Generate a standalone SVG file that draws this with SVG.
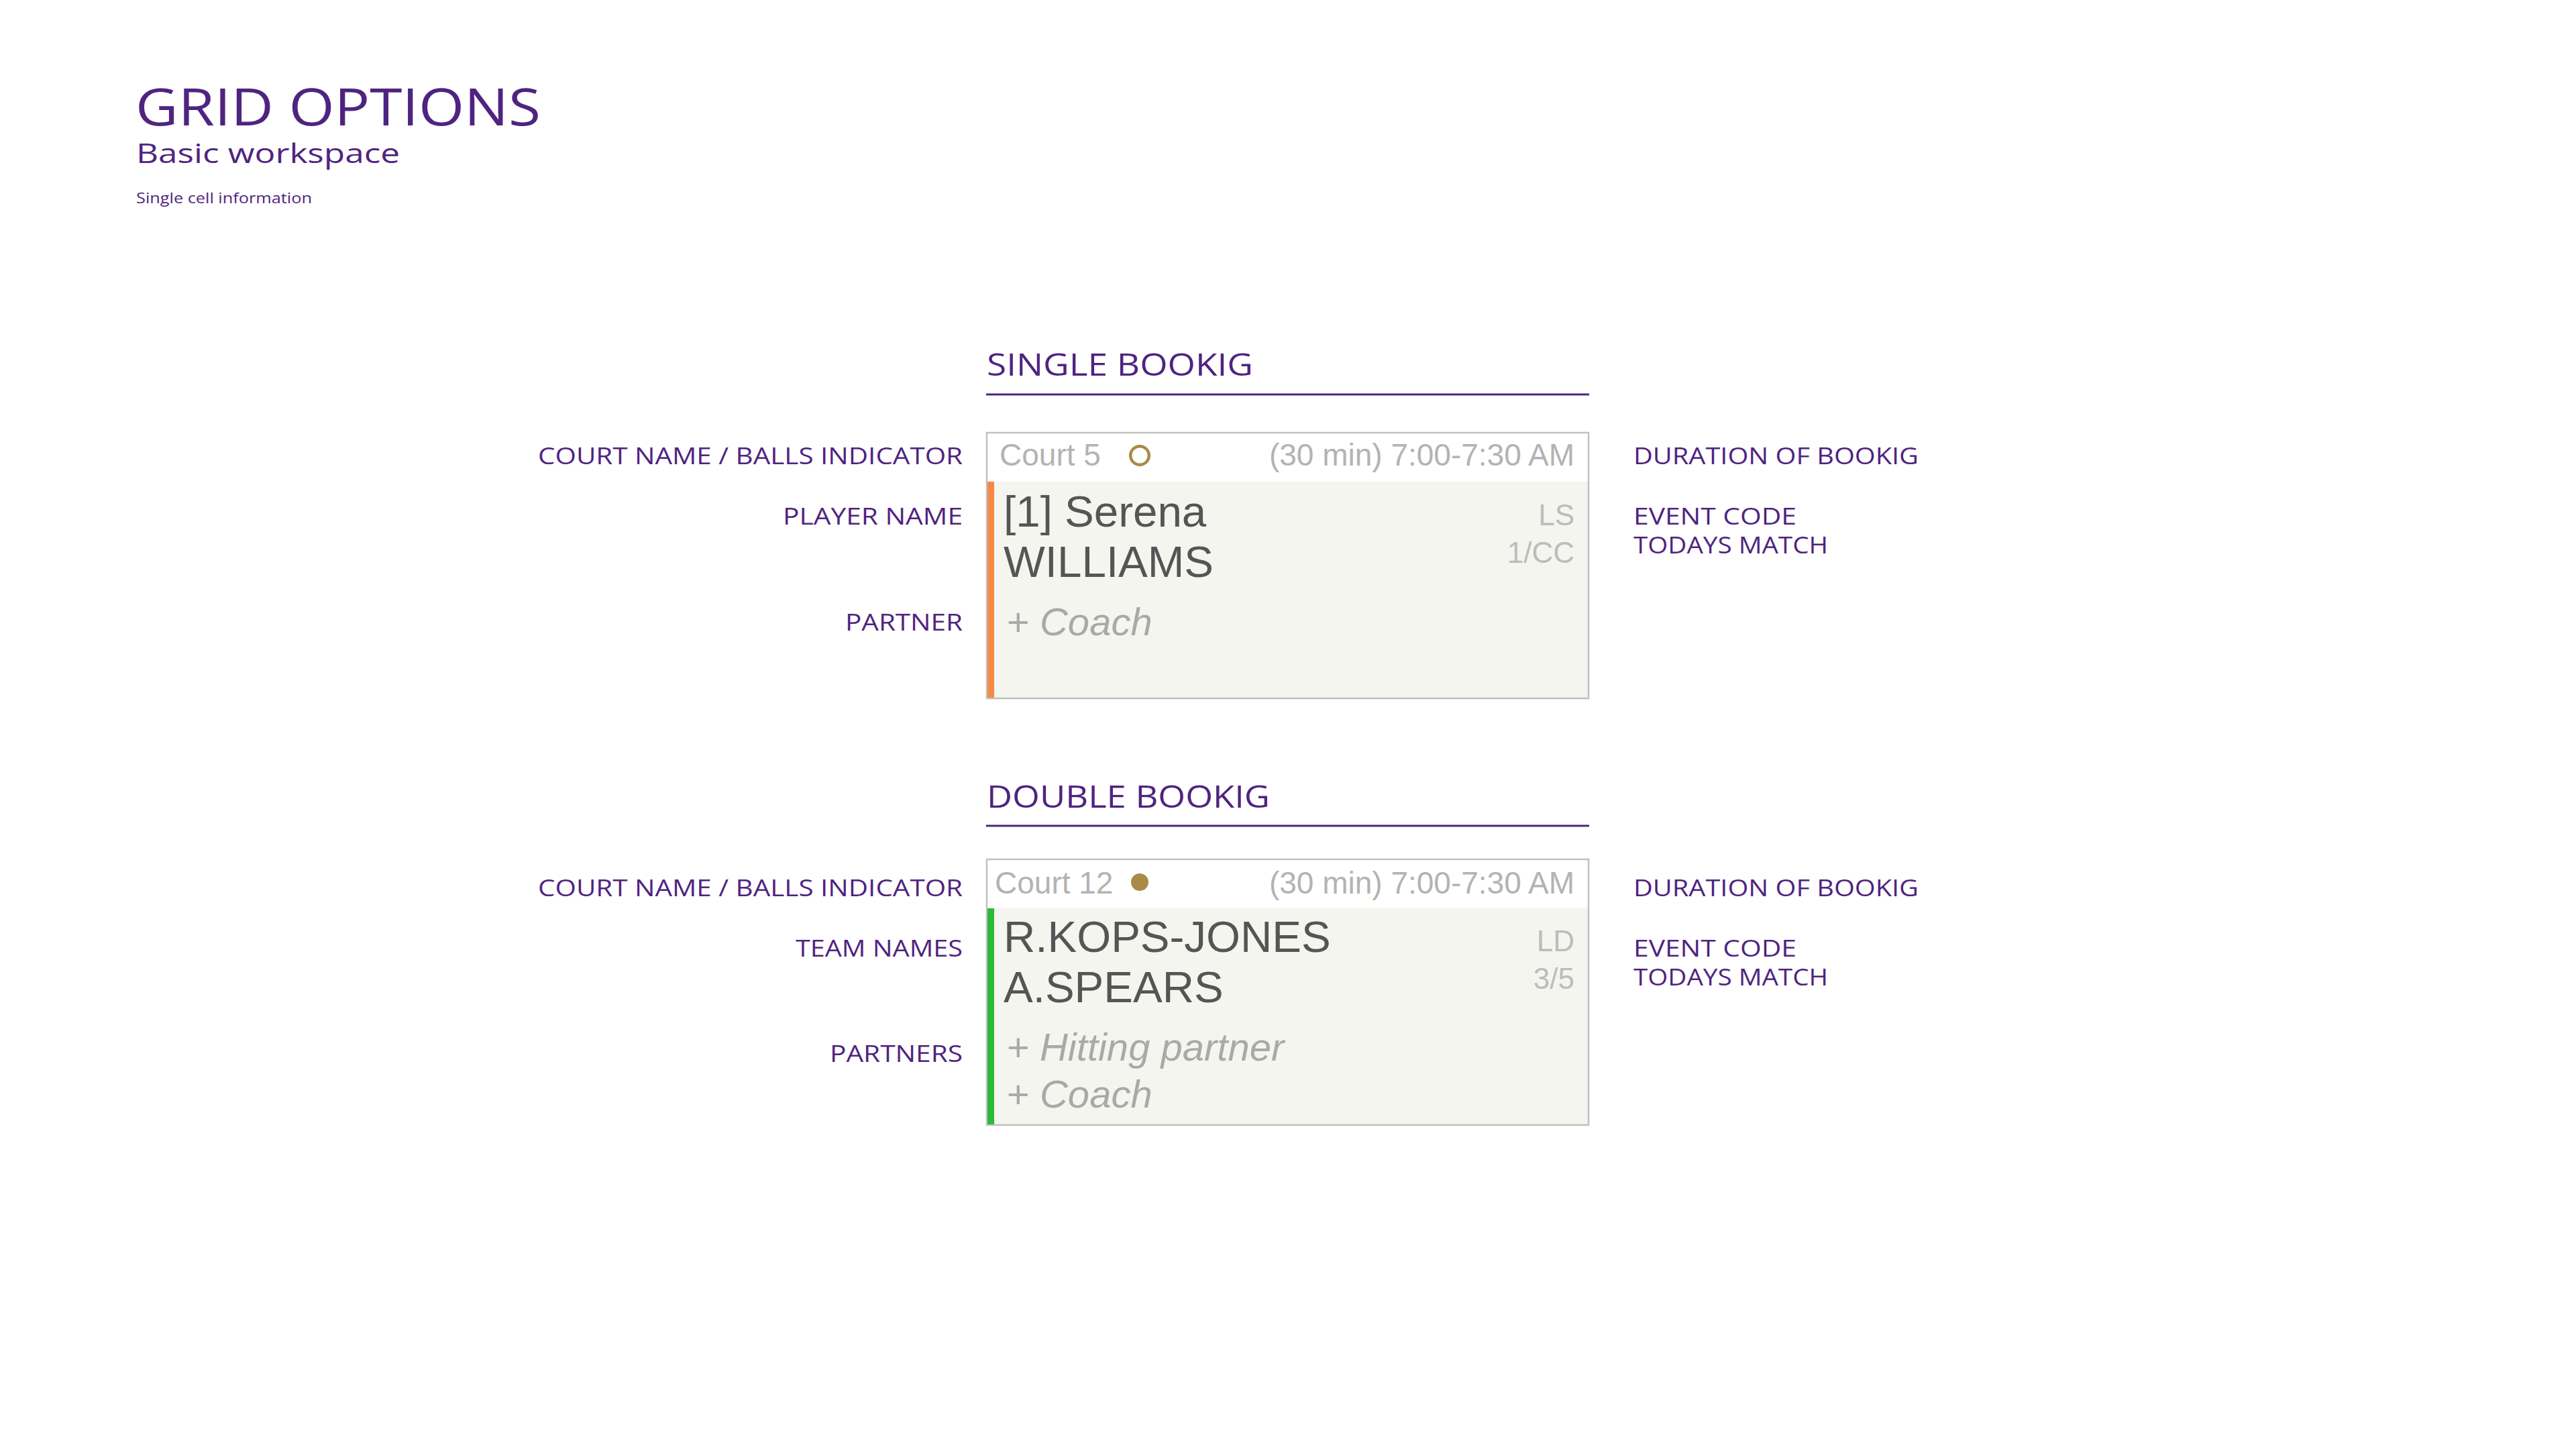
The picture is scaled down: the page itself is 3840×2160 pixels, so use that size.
<svg xmlns="http://www.w3.org/2000/svg" width="3840" height="2160" viewBox="0 0 3840 2160">
<style>
.g{font-family:"Open Sans","Noto Sans","Liberation Sans",sans-serif;fill:#4F2480}
.lbl{font-size:35px}
.lr{text-anchor:end}
.h{font-family:"Liberation Sans",Arial,sans-serif;fill:#b3b3b3;font-size:46px}
.nm{font-family:"Liberation Sans",Arial,sans-serif;fill:#555555;font-size:65.5px}
.code{font-family:"Liberation Sans",Arial,sans-serif;fill:#bcbcbc;font-size:44px;text-anchor:end}
.it{font-family:"Liberation Sans",Arial,sans-serif;fill:#a9a9a9;font-size:58px;font-style:italic}
.box{fill:#f5f5f0;stroke:#c0c0c0;stroke-width:2.5}
.hdr{fill:#ffffff}
.rule{stroke:#4F2480;stroke-width:3}
</style>
<rect width="3840" height="2160" fill="#ffffff"/>

<g id="title">
<text class="g" x="202" y="187" font-size="77" textLength="604" lengthAdjust="spacingAndGlyphs">GRID OPTIONS</text>
<text class="g" x="203" y="243" font-size="41" textLength="393" lengthAdjust="spacingAndGlyphs">Basic workspace</text>
<text class="g" x="203" y="303" font-size="22" textLength="262" lengthAdjust="spacingAndGlyphs">Single cell information</text>
</g>

<g id="single-heading">
<text class="g" x="1471" y="560" font-size="45" textLength="397" lengthAdjust="spacingAndGlyphs">SINGLE BOOKIG</text>
<line class="rule" x1="1470" y1="588" x2="2369" y2="588"/>
</g>

<g id="single-labels">
<text class="g lbl lr" x="1435" y="692" textLength="633" lengthAdjust="spacingAndGlyphs">COURT NAME / BALLS INDICATOR</text>
<text class="g lbl lr" x="1435" y="782" textLength="268" lengthAdjust="spacingAndGlyphs">PLAYER NAME</text>
<text class="g lbl lr" x="1435" y="940" textLength="175" lengthAdjust="spacingAndGlyphs">PARTNER</text>
<text class="g lbl" x="2435" y="692" textLength="425" lengthAdjust="spacingAndGlyphs">DURATION OF BOOKIG</text>
<text class="g lbl" x="2435" y="782" textLength="243" lengthAdjust="spacingAndGlyphs">EVENT CODE</text>
<text class="g lbl" x="2435" y="825" textLength="290" lengthAdjust="spacingAndGlyphs">TODAYS MATCH</text>
</g>

<g id="single-cell">
<rect class="box" x="1471" y="645" width="897" height="396"/>
<rect class="hdr" x="1472.5" y="646.5" width="894" height="71"/>
<rect x="1472" y="718" width="10" height="322" fill="#F68A45"/>
<text class="h" x="1490" y="694">Court 5</text>
<circle cx="1699" cy="679" r="13.8" fill="none" stroke="#A88B45" stroke-width="4.5"/>
<text class="h" x="2347" y="694" text-anchor="end">(30 min) 7:00-7:30 AM</text>
<text class="nm" x="1496" y="785">[1] Serena</text>
<text class="nm" x="1496" y="860">WILLIAMS</text>
<text class="code" x="2347" y="783">LS</text>
<text class="code" x="2347" y="839">1/CC</text>
<text class="it" x="1500" y="947">+ Coach</text>
</g>

<g id="double-heading">
<text class="g" x="1471" y="1204" font-size="45" textLength="422" lengthAdjust="spacingAndGlyphs">DOUBLE BOOKIG</text>
<line class="rule" x1="1470" y1="1231" x2="2369" y2="1231"/>
</g>

<g id="double-labels">
<text class="g lbl lr" x="1435" y="1336" textLength="633" lengthAdjust="spacingAndGlyphs">COURT NAME / BALLS INDICATOR</text>
<text class="g lbl lr" x="1435" y="1426" textLength="249" lengthAdjust="spacingAndGlyphs">TEAM NAMES</text>
<text class="g lbl lr" x="1435" y="1583" textLength="198" lengthAdjust="spacingAndGlyphs">PARTNERS</text>
<text class="g lbl" x="2435" y="1336" textLength="425" lengthAdjust="spacingAndGlyphs">DURATION OF BOOKIG</text>
<text class="g lbl" x="2435" y="1426" textLength="243" lengthAdjust="spacingAndGlyphs">EVENT CODE</text>
<text class="g lbl" x="2435" y="1469" textLength="290" lengthAdjust="spacingAndGlyphs">TODAYS MATCH</text>
</g>

<g id="double-cell">
<rect class="box" x="1471" y="1281" width="897" height="396"/>
<rect class="hdr" x="1472.5" y="1282.5" width="894" height="71"/>
<rect x="1472" y="1354" width="10" height="322" fill="#2CBB36"/>
<text class="h" x="1483" y="1332">Court 12</text>
<circle cx="1699" cy="1315" r="13" fill="#A88B45"/>
<text class="h" x="2347" y="1332" text-anchor="end">(30 min) 7:00-7:30 AM</text>
<text class="nm" x="1496" y="1419">R.KOPS-JONES</text>
<text class="nm" x="1496" y="1494">A.SPEARS</text>
<text class="code" x="2347" y="1418">LD</text>
<text class="code" x="2347" y="1474">3/5</text>
<text class="it" x="1500" y="1581">+ Hitting partner</text>
<text class="it" x="1500" y="1651">+ Coach</text>
</g>
</svg>
